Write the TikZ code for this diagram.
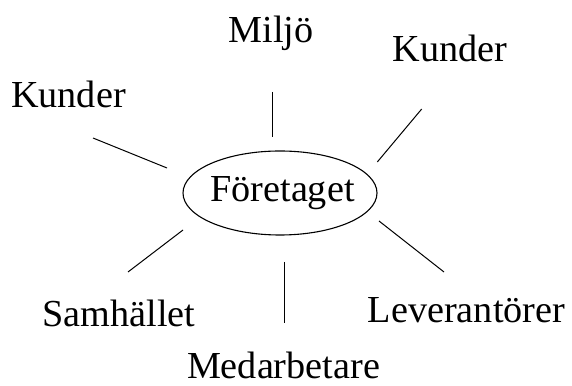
\documentclass[tikz,border=0pt]{standalone}
\usepackage{fontspec}
\setmainfont{Liberation Serif}
\usetikzlibrary{shapes.geometric}
\begin{document}
\begin{tikzpicture}[x=1pt,y=1pt,
  lbl/.style={inner sep=0pt,anchor=base,font=\fontsize{38.2}{40}\selectfont},
  spoke/.style={draw=black,line width=1pt},
  hub/.style={draw=black,line width=1.1pt,ellipse,minimum width=194pt,minimum height=84pt,inner sep=0pt}]
\useasboundingbox (0,0) rectangle (572,385);
\node[hub] (hub) at (280,192) {};
\node[lbl] (foretaget) at (282.5,183) {Företaget};
\node[lbl] (miljo) at (271,342) {Miljö};
\node[lbl] (kunderR) at (450,323) {Kunder};
\node[lbl] (kunderL) at (68.5,277) {Kunder};
\node[lbl] (samhallet) at (119,58) {Samhället};
\node[lbl] (lev) at (466.5,62) {Leverantörer};
\node[lbl] (med) at (283.5,7) {Medarbetare};
\coordinate (t1) at (272.7,293); \coordinate (t2) at (272.7,248);
\coordinate (tr1) at (421.7,276); \coordinate (tr2) at (377.3,223);
\coordinate (l1) at (93,247); \coordinate (l2) at (167,217);
\coordinate (bl1) at (183,155); \coordinate (bl2) at (128,113);
\coordinate (b1) at (284,123); \coordinate (b2) at (284,62);
\coordinate (br1) at (379,164); \coordinate (br2) at (444,113);
\draw[spoke] (t1) -- (t2);
\draw[spoke] (tr1) -- (tr2);
\draw[spoke] (l1) -- (l2);
\draw[spoke] (bl1) -- (bl2);
\draw[spoke] (b1) -- (b2);
\draw[spoke] (br1) -- (br2);
\end{tikzpicture}
\end{document}
